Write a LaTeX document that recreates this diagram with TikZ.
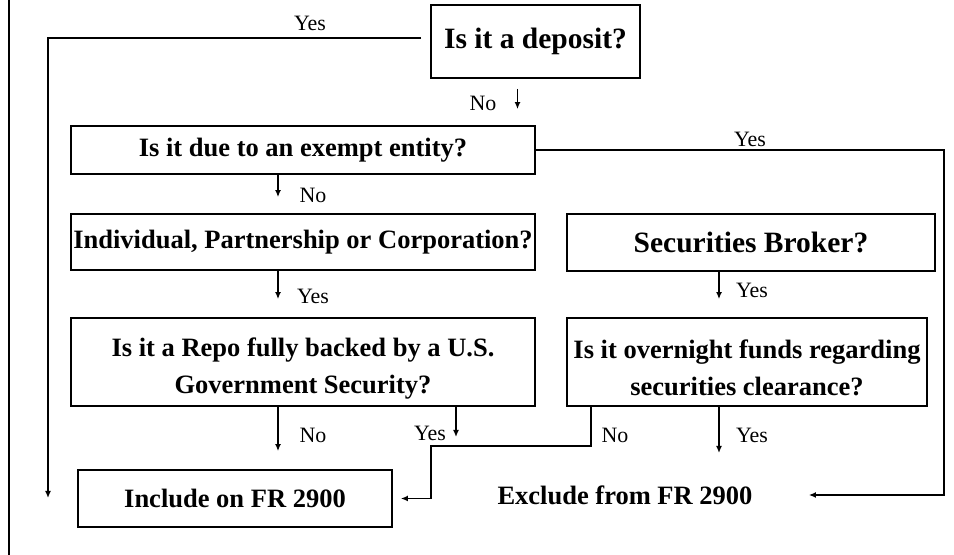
\documentclass[tikz,border=0pt]{standalone}
\usepackage{fontspec}
\setmainfont{Liberation Serif}
\usetikzlibrary{arrows.meta}

\begin{document}
\begin{tikzpicture}[x=0.5bp, y=-0.5bp,
        box/.style={draw, line width=0.9bp, align=center, inner sep=0pt, font=\fontsize{13.3}{18.3}\selectfont\bfseries},
        bigbox/.style={box, font=\fontsize{14.8}{18}\selectfont\bfseries},
        lab/.style={inner sep=0pt, font=\fontsize{11}{13}\selectfont},
        arr/.style={-{Latex[length=3.5bp,width=3bp]}, line width=0.8bp},
        conn/.style={line width=1bp}]
                \useasboundingbox (0,0) rectangle (954,555);
                \draw[conn] (9,0) -- (9,555);
                \node[bigbox, minimum width=104.5bp, minimum height=36.5bp] (dep) at (535.5,41.5) {Is it a deposit?};
                \node[box, minimum width=232bp, minimum height=24bp] (exempt) at (303,150) {Is it due to an exempt entity?};
                \node[box, minimum width=232bp, minimum height=28bp] (indiv) at (303,242) {Individual, Partnership or Corporation?};
                \node[bigbox, minimum width=184bp, minimum height=28.5bp] (broker) at (751,242.5) {Securities Broker?};
                \node[box, minimum width=232bp, minimum height=44bp] (repo) at (303,362) {\rule{0pt}{16bp}Is it a Repo fully backed by a U.S.\\Government Security?};
                \node[box, minimum width=180bp, minimum height=44bp] (over) at (747,362) {\rule{0pt}{15bp}Is it overnight funds regarding\\securities clearance?};
                \node[box, minimum width=157bp, minimum height=28.5bp] (incl) at (235,498.5) {Include on FR 2900};
                \node[box, draw=none, minimum width=183bp] (excl) at (625,495) {Exclude from FR 2900};
                \coordinate (leftend) at (48,498);
                \coordinate (repoyes) at (456,437);
                \coordinate (nobend) at (431,446);
                \coordinate (overyes) at (719,453);
                \draw[arr, shorten <=4.5bp] ([yshift=1.75bp]dep.west) -| (leftend);
                \draw[arr, shorten <=5bp, shorten >=8bp] ([xshift=-9bp]dep.south) -- ([xshift=-9bp]dep.south |- exempt.north);
                \draw[arr] (exempt.east) -| ([xshift=67.5bp]excl.east) -- (excl.east);
                \draw[arr, shorten >=8bp] ([xshift=-12.5bp]exempt.south) -- ([xshift=-12.5bp]exempt.south |- indiv.north);
                \draw[arr, shorten >=9bp] ([xshift=-12.5bp]indiv.south) -- ([xshift=-12.5bp]indiv.south |- repo.north);
                \draw[arr, shorten >=9bp] ([xshift=-16bp]broker.south) -- ([xshift=-16bp]broker.south |- over.north);
                \draw[arr, shorten >=9bp] ([xshift=-12.5bp]repo.south) -- ([xshift=-12.5bp]repo.south |- incl.north);
                \draw[arr] (repo.south -| repoyes) -- (repoyes);
                \draw[arr, shorten >=4bp] ([xshift=-78bp]over.south) |- (nobend) |- (incl.east);
                \draw[arr] (over.south -| overyes) -- (overyes);
                \node[lab] (ydep) at (310,23) {Yes};
                \node[lab] (ndep) at (483,103) {No};
                \node[lab] (yexempt) at (750,139) {Yes};
                \node[lab] (nexempt) at (313,195) {No};
                \node[lab] (yindiv) at (313,296) {Yes};
                \node[lab] (ybroker) at (752,290) {Yes};
                \node[lab] (nrepo) at (313,435) {No};
                \node[lab] (yrepo) at (430,433) {Yes};
                \node[lab] (nover) at (615,435) {No};
                \node[lab] (yover) at (752,435) {Yes};
            \end{tikzpicture}
\end{document}
